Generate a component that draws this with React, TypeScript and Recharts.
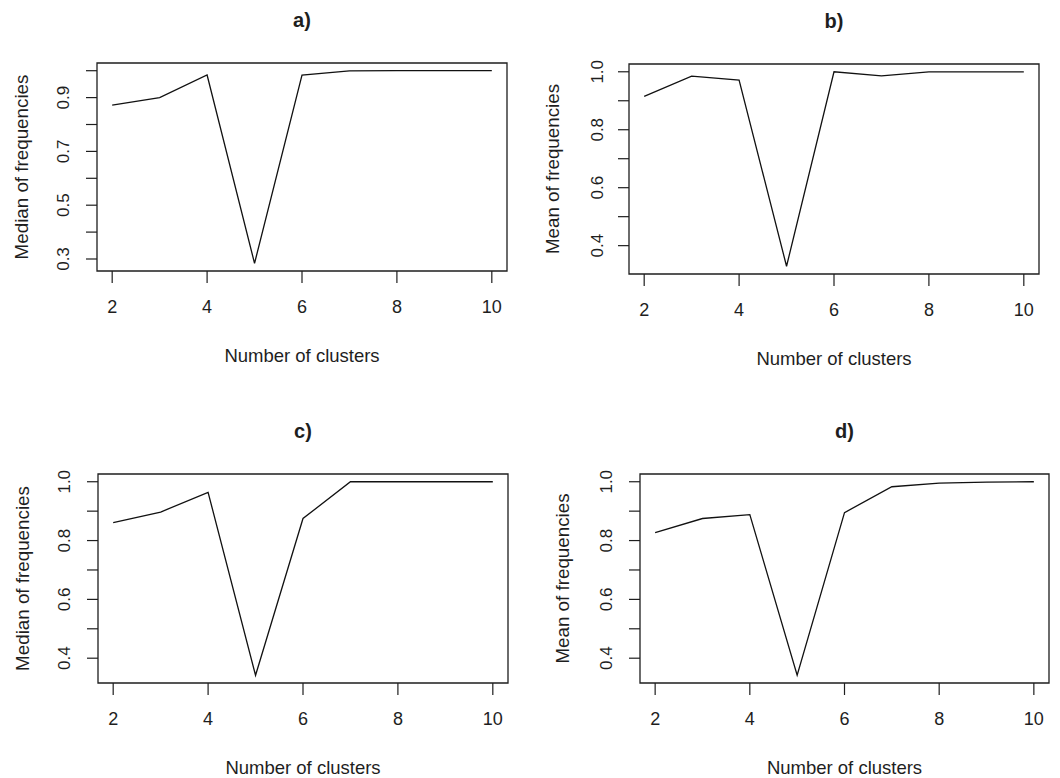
import React from 'react';
import { LineChart, Line, XAxis, YAxis, ReferenceArea } from 'recharts';

// ---------- data ----------
const clusters = [2, 3, 4, 5, 6, 7, 8, 9, 10];
const medianFreqA = [0.872, 0.9, 0.984, 0.284, 0.984, 0.999, 1.0, 1.0, 1.0];
const meanFreqB = [0.915, 0.985, 0.971, 0.329, 1.0, 0.986, 1.0, 1.0, 1.0];
const medianFreqC = [0.861, 0.897, 0.964, 0.342, 0.875, 1.0, 1.0, 1.0, 1.0];
const meanFreqD = [0.827, 0.875, 0.888, 0.342, 0.895, 0.983, 0.995, 0.999, 1.0];

const xTicks = [2, 4, 6, 8, 10];
const yTicksA = [0.3, 0.4, 0.5, 0.6, 0.7, 0.8, 0.9, 1.0];
const yTickLabelsA = [0.3, 0.5, 0.7, 0.9];
const yTicksBCD = [0.4, 0.5, 0.6, 0.7, 0.8, 0.9, 1.0];
const yTickLabelsBCD = [0.4, 0.6, 0.8, 1.0];

const panelTitles = ['a)', 'b)', 'c)', 'd)'];
const yAxisTitles = [
  'Median of frequencies',
  'Mean of frequencies',
  'Median of frequencies',
  'Mean of frequencies',
];
const xAxisTitle = 'Number of clusters';

// ---------- helpers ----------
const FONT = "Arial, 'Liberation Sans', Helvetica, sans-serif";
const INK = '#1e1e1e';

function paddedRange(values: number[]): [number, number] {
  const lo = Math.min(...values);
  const hi = Math.max(...values);
  const pad = (hi - lo) * 0.04;
  return [lo - pad, hi + pad];
}

type Box = { left: number; top: number; right: number; bottom: number };

const LEFT_EXT = 100;
const TOP_EXT = 70;
const RIGHT_EXT = 8;
const BOTTOM_EXT = 94;

interface PanelProps {
  values: number[];
  title: string;
  yTitle: string;
  yTicks: number[];
  yTickLabels: number[];
  box: Box;
  yTickCenter: number;
  yTitleCenter: number;
}

function LabelWrap(props: any) {
  const { render: R, ...rest } = props;
  return <R {...rest} />;
}

function Panel({ values, title, yTitle, yTicks, yTickLabels, box, yTickCenter, yTitleCenter }: PanelProps) {
  const data = clusters.map((k, i) => ({ k, v: values[i] }));
  const xDomain = paddedRange(clusters);
  const yDomain = paddedRange(values);
  const plotW = box.right - box.left;
  const plotH = box.bottom - box.top;
  const width = plotW + LEFT_EXT + RIGHT_EXT;
  const height = plotH + TOP_EXT + BOTTOM_EXT;
  const tickSize = 11;

  const YTick = (props: any) => {
    const { x, y, payload } = props;
    const val = payload.value as number;
    if (!yTickLabels.some((t) => Math.abs(t - val) < 1e-9)) return null;
    const cx = x + tickSize + 2 - yTickCenter;
    return (
      <text
        x={cx}
        y={y}
        transform={`rotate(-90, ${cx}, ${y})`}
        textAnchor="middle"
        dominantBaseline="central"
        fontSize={17}
        fontFamily={FONT}
        fill={INK}
      >
        {val.toFixed(1)}
      </text>
    );
  };

  const XTick = (props: any) => {
    const { x, y, payload } = props;
    const cy = y - tickSize - 3 + 36;
    return (
      <text x={x} y={cy} textAnchor="middle" dominantBaseline="central" fontSize={18} fontFamily={FONT} fill={INK}>
        {payload.value}
      </text>
    );
  };

  const XTitle = (props: any) => {
    const vb = props.viewBox || { x: LEFT_EXT, y: TOP_EXT + plotH, width: plotW };
    return (
      <text
        x={vb.x + vb.width / 2}
        y={vb.y + 84}
        textAnchor="middle"
        dominantBaseline="central"
        fontSize={18.5}
        fontFamily={FONT}
        fill={INK}
      >
        {xAxisTitle}
      </text>
    );
  };

  const YTitle = (props: any) => {
    const vb = props.viewBox || { x: 0, y: TOP_EXT, width: LEFT_EXT, height: plotH };
    const cx = vb.x + vb.width - yTitleCenter;
    const cy = vb.y + vb.height / 2;
    return (
      <text
        x={cx}
        y={cy}
        transform={`rotate(-90, ${cx}, ${cy})`}
        textAnchor="middle"
        dominantBaseline="central"
        fontSize={18.8}
        fontFamily={FONT}
        fill={INK}
      >
        {yTitle}
      </text>
    );
  };

  return (
    <div style={{ position: 'absolute', left: box.left - LEFT_EXT, top: box.top - TOP_EXT, width, height }}>
      <div
        style={{
          position: 'absolute',
          left: LEFT_EXT,
          width: plotW,
          top: TOP_EXT - 43 - 13,
          height: 26,
          lineHeight: '26px',
          textAlign: 'center',
          fontFamily: FONT,
          fontWeight: 'bold',
          fontSize: 20,
          color: INK,
        }}
      >
        {title}
      </div>
      <LineChart
        width={width}
        height={height}
        data={data}
        margin={{ top: TOP_EXT, right: RIGHT_EXT, bottom: 0, left: 0 }}
      >
        <XAxis
          dataKey="k"
          type="number"
          domain={xDomain}
          allowDataOverflow
          ticks={xTicks}
          height={BOTTOM_EXT}
          axisLine={false}
          tickLine={{ stroke: INK, strokeWidth: 1.2 }}
          tickSize={tickSize + 1}
          tickMargin={2}
          tick={<XTick />}
          interval={0}
          label={<LabelWrap render={XTitle} />}
        />
        <YAxis
          type="number"
          domain={yDomain}
          allowDataOverflow
          ticks={yTicks}
          width={LEFT_EXT}
          axisLine={false}
          tickLine={{ stroke: INK, strokeWidth: 1.2 }}
          tickSize={tickSize}
          tickMargin={2}
          tick={<YTick />}
          interval={0}
          label={<LabelWrap render={YTitle} />}
        />
        <ReferenceArea
          x1={xDomain[0]}
          x2={xDomain[1]}
          y1={yDomain[0]}
          y2={yDomain[1]}
          fill="none"
          stroke={INK}
          strokeWidth={1.3}
          ifOverflow="visible"
        />
        <Line
          type="linear"
          dataKey="v"
          stroke="#111"
          strokeWidth={1.3}
          dot={false}
          activeDot={false}
          isAnimationActive={false}
        />
      </LineChart>
    </div>
  );
}

const boxes: Box[] = [
  { left: 97, top: 63, right: 507, bottom: 271 },
  { left: 629, top: 64, right: 1039, bottom: 274 },
  { left: 98, top: 474, right: 508, bottom: 683 },
  { left: 640, top: 474, right: 1049, bottom: 683 },
];
const seriesList = [medianFreqA, meanFreqB, medianFreqC, meanFreqD];
const tickSets = [yTicksA, yTicksBCD, yTicksBCD, yTicksBCD];
const tickLabelSets = [yTickLabelsA, yTickLabelsBCD, yTickLabelsBCD, yTickLabelsBCD];
const yTickCenters = [33, 31, 33, 33];
const yTitleCenters = [76, 77, 76, 78];

export default function App() {
  return (
    <div
      style={{
        position: 'absolute',
        left: 0,
        top: 0,
        width: 1060,
        height: 778,
        overflow: 'hidden',
        background: '#fff',
      }}
    >
      {seriesList.map((vals, i) => (
        <Panel
          key={i}
          values={vals}
          title={panelTitles[i]}
          yTitle={yAxisTitles[i]}
          yTicks={tickSets[i]}
          yTickLabels={tickLabelSets[i]}
          box={boxes[i]}
          yTickCenter={yTickCenters[i]}
          yTitleCenter={yTitleCenters[i]}
        />
      ))}
    </div>
  );
}
